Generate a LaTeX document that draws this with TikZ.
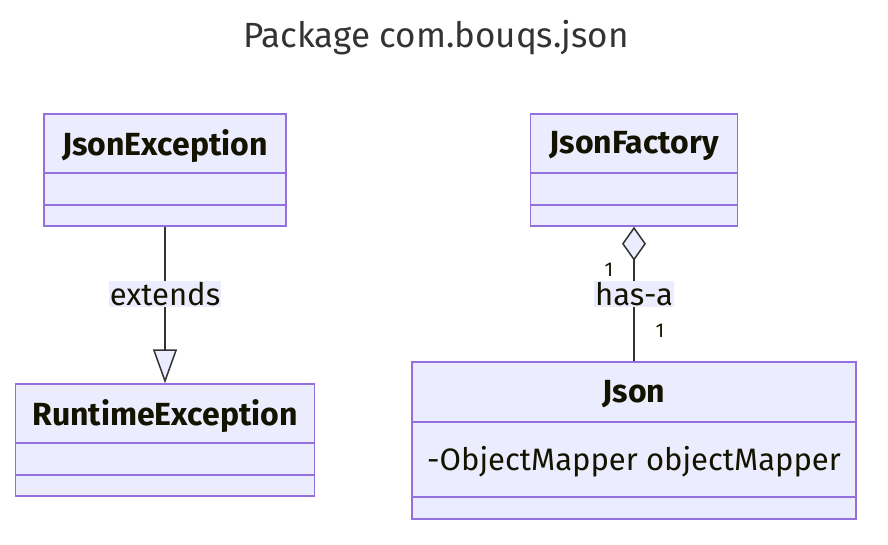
\documentclass[tikz,border=0pt]{standalone}
\usepackage{fontspec}
\setmainfont{Fira Sans}
\usepackage{xcolor}
\usetikzlibrary{arrows.meta,positioning}
\definecolor{mmfill}{HTML}{ECECFF}
\definecolor{mmedge}{HTML}{9370DB}
\definecolor{mmline}{HTML}{333333}
\definecolor{mmtext}{HTML}{131300}

\begin{document}
\begin{tikzpicture}[
  x=1pt, y=-1pt,
  classhead/.style={draw=mmedge, fill=mmfill, line width=1.5pt, inner sep=0pt,
    font=\fontsize{32}{38}\selectfont\bfseries\color{mmtext}},
  classpart/.style={draw=mmedge, fill=mmfill, line width=1.5pt, inner sep=0pt,
    font=\fontsize{31}{37}\selectfont\color{mmtext}},
  relline/.style={draw=mmline, line width=1.5pt},
  rellabel/.style={fill=mmfill, inner sep=1pt, text=mmtext,
    font=\fontsize{31}{37}\selectfont},
  cardlabel/.style={inner sep=0pt, text=mmtext, font=\fontsize{20}{24}\selectfont}
]
\useasboundingbox (0,0) rectangle (888,544);
% title
\node[font=\fontsize{35}{42}\selectfont, text=mmline] (title) at (436,38) {Package com.bouqs.json};
% JsonException
\node[classhead, minimum width=242pt, minimum height=59pt, text depth=2pt] (jexc) at (165,143.5) {JsonException};
\node[classpart, minimum width=242pt, minimum height=32pt] (jexc-a) at (165,189) {};
\node[classpart, minimum width=242pt, minimum height=21pt] (jexc-m) at (165,215.5) {};
% RuntimeException
\node[classhead, minimum width=299pt, minimum height=59pt, text depth=2pt] (rtexc) at (165,413.5) {RuntimeException};
\node[classpart, minimum width=299pt, minimum height=32pt] (rtexc-a) at (165,459) {};
\node[classpart, minimum width=299pt, minimum height=21pt] (rtexc-m) at (165,485.5) {};
% JsonFactory
\node[classhead, minimum width=207pt, minimum height=59pt, text depth=2pt] (jfac) at (634,143.5) {JsonFactory};
\node[classpart, minimum width=207pt, minimum height=32pt] (jfac-a) at (634,189) {};
\node[classpart, minimum width=207pt, minimum height=21pt] (jfac-m) at (634,215.5) {};
% Json
\node[classhead, minimum width=444pt, minimum height=60pt, text depth=2pt] (json) at (634,392) {Json};
\node[classpart, minimum width=444pt, minimum height=75pt] (json-a) at (634,459.5) {};
\node[classpart, draw=none, fill=none] (json-attr) at (634,462) {-ObjectMapper objectMapper};
\node[classpart, minimum width=444pt, minimum height=22pt] (json-m) at (634,508) {};
% relations
\draw[relline, -{Triangle[length=34pt, width=24pt, line width=1.5pt, fill=mmfill]}]
  (jexc-m.south) -- node[rellabel, pos=0.43] (ext) {extends} (rtexc.north);
\draw[relline, {Diamond[length=34pt, width=24pt, line width=1.5pt, fill=mmfill]}-]
  (jfac-m.south) -- node[rellabel, pos=0.5] (hasa) {has-a} (json.north);
\node[cardlabel] (card-top) at (609,270) {1};
\node[cardlabel] (card-bot) at (660,331) {1};
\end{tikzpicture}
\end{document}
